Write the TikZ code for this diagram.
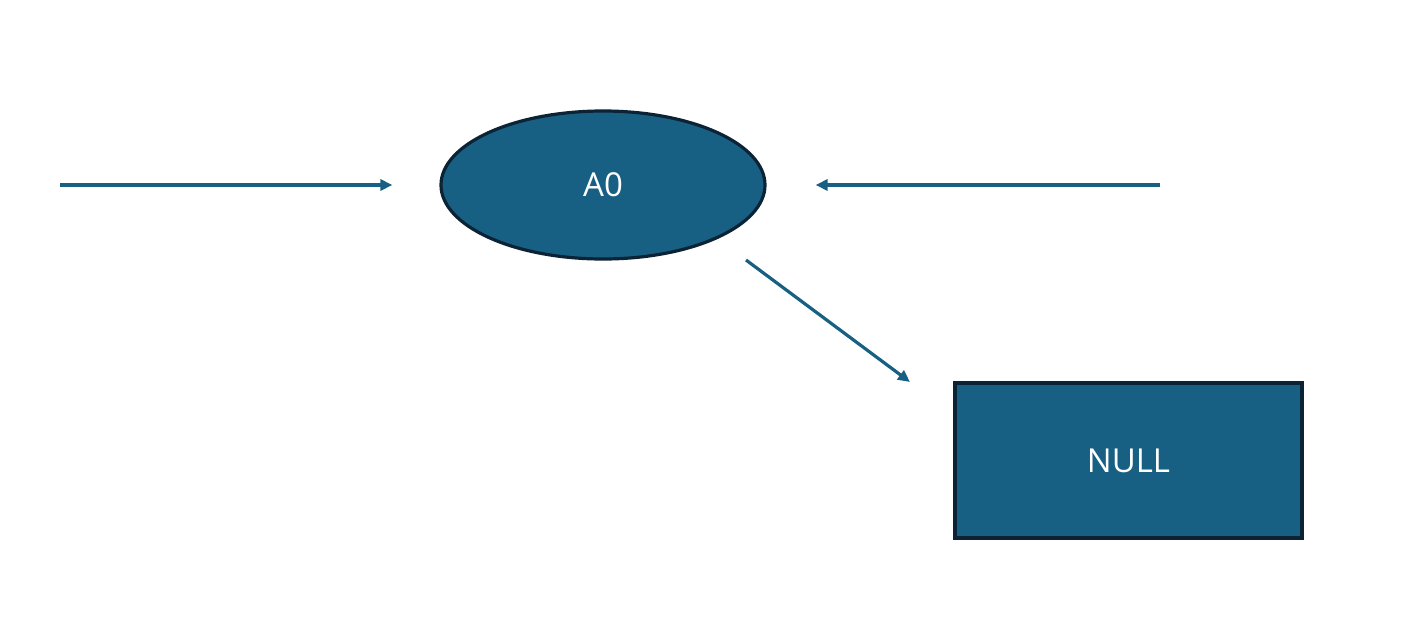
\documentclass[tikz,border=0pt]{standalone}
\usepackage{fontspec}
\setmainfont{Open Sans}
\usepackage{xcolor}
\usetikzlibrary{shapes.geometric, arrows.meta, positioning}

\definecolor{nodeblue}{HTML}{176083}
\definecolor{nodeedge}{HTML}{0B2335}

\begin{document}
\begin{tikzpicture}[
  x=0.5pt, y=-0.5pt,
  font=\fontsize{16.5}{19}\selectfont,
  oval/.style={ellipse, draw=nodeedge, fill=nodeblue, text=white, line width=1.6pt, minimum width=162pt, minimum height=74pt, inner sep=0pt},
  box/.style={rectangle, draw=nodeedge, fill=nodeblue, text=white, line width=1.6pt, minimum width=173.5pt, minimum height=77.5pt},
  line/.style={draw=nodeblue, line width=1.6pt, -{Triangle[length=6pt, width=5.5pt]}}
]
  \useasboundingbox (0,0) rectangle (1410,627);

  \node [oval] (a0) at (603,185) {A0};
  \node [box] (null) at (1128.5,460.5) {NULL};

  \coordinate (inleft) at (60,185);
  \coordinate (inright) at (1160,185);
  \coordinate (outfrom) at (746,260);
  \coordinate (outto) at (910,382);

  \draw [line, shorten >=23.5pt] (inleft) -- (a0.west);
  \draw [line, shorten >=24.5pt] (inright) -- (a0.east);
  \draw [line] (outfrom) -- (outto);
\end{tikzpicture}
\end{document}
